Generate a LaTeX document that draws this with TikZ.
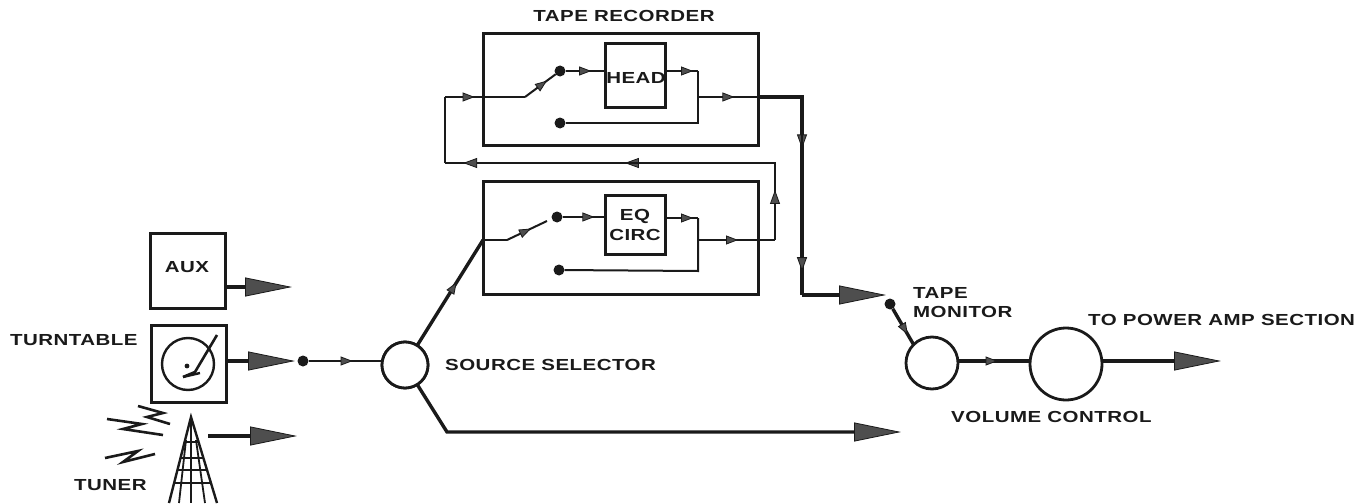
\documentclass[tikz,border=0pt]{standalone}
\usepackage{fontspec}
\setmainfont{Liberation Sans}[FakeStretch=1.28,LetterSpace=3]
\usetikzlibrary{arrows.meta,decorations.markings}
\definecolor{ink}{HTML}{1A1A1A}
\definecolor{tone}{HTML}{4E4E4E}
\tikzset{
  x=1pt,y=-1pt,
  wire/.style={draw=ink,line width=2pt,line join=miter},
  thick wire/.style={draw=ink,line width=3.4pt},
  frame/.style={draw=ink,line width=3pt,rectangle,inner sep=0pt,outer sep=0pt,fill=none},
  knob/.style={draw=ink,line width=2.8pt,circle,inner sep=0pt,outer sep=0pt,fill=white},
  contact/.style={circle,fill=ink,inner sep=0pt,minimum size=11pt,outer sep=0pt},
  label/.style={font=\bfseries\fontsize{16}{19}\selectfont,text=ink,inner sep=0pt},
  bigtip/.style={-{Triangle[length=47pt,width=19pt,fill=tone,color=ink,line width=.8pt]}},
  midtip/.style={postaction={decorate,decoration={markings,mark=at position #1 with {\arrow{Triangle[length=12pt,width=9pt,fill=tone,color=ink,line width=.8pt]}}}}},
  uptip/.style={postaction={decorate,decoration={markings,mark=at position #1 with {\arrow{Triangle[length=14pt,width=10pt,fill=tone,color=ink,line width=.8pt]}}}}},
}
\begin{document}
\begin{tikzpicture}
\useasboundingbox[fill=white] (0,0) rectangle (1367,503);
% boxes
\node[frame,minimum width=275pt,minimum height=111pt] (tape) at (620.5,89.5) {};
\node[frame,minimum width=60pt,minimum height=63pt] (head) at (635,75.5) {};
\node[frame,minimum width=275pt,minimum height=113pt] (eq) at (620.5,237.5) {};
\node[frame,minimum width=60pt,minimum height=59pt] (circ) at (635,224.5) {};
\node[frame,minimum width=75pt,minimum height=75pt] (aux) at (187.5,270.5) {};
\node[frame,minimum width=75pt,minimum height=77pt] (turn) at (188.5,363.5) {};
\node[knob,minimum size=46pt] (src) at (405,365) {};
\node[knob,minimum size=52pt] (mon) at (932,363) {};
\node[knob,minimum size=72pt] (vol) at (1066,364) {};
% contacts
\node[contact] (c1) at (560,71) {};
\node[contact] (c2) at (560,123) {};
\node[contact] (c3) at (557,217) {};
\node[contact] (c4) at (559,270) {};
\node[contact] (c5) at (303,361) {};
\node[contact] (c6) at (890,304) {};
% free ends and corners
\coordinate (fbL) at (445,97);
\coordinate (fbB) at (445,163);
\coordinate (fbR) at (775,163);
\coordinate (j1) at (525,97);
\coordinate (j2) at (698,71);
\coordinate (j3) at (698,123);
\coordinate (j4) at (698,97);
\coordinate (o1) at (802,97);
\coordinate (o2) at (802,295);
\coordinate (o3) at (886,295);
\coordinate (e0) at (483,240);
\coordinate (e1) at (507,240);
\coordinate (e2) at (547,221);
\coordinate (e3) at (698,218);
\coordinate (e4) at (698,271);
\coordinate (e5) at (698,240);
\coordinate (e6) at (775,240);
\coordinate (s1) at (447,432);
\coordinate (s2) at (901,432);
\coordinate (a1) at (292,287);
\coordinate (t1) at (295,361);
\coordinate (u0) at (208,436);
\coordinate (u1) at (297,436);
\coordinate (p1) at (1221,361);
% tape recorder wiring
\draw[wire] (fbB) -- (fbL);
\draw[wire,midtip=.37] (fbL) -- (j1);
\draw[wire,midtip=.72] (j1) -- (c1);
\draw[wire,midtip=.65] (c1) -- (c1 -| head.west);
\draw[wire,midtip=.85] (j2 -| head.east) -- (j2);
\draw[wire] (j2) -- (j3) -- (c2);
\draw[wire,midtip=.35] (j4) -- (o1);
\draw[thick wire] (tape.east |- o1) -- (o1) -- (o2);
\draw[wire,uptip=.26] (o1) -- (o2);
\draw[wire,uptip=.88] (o1) -- (o2);
\draw[thick wire,bigtip] (o2) -- (o3);
% feedback
\draw[wire] (e6) -- (fbR) -- (fbB);
\draw[wire,uptip=.65] (e6) -- (fbR);
\draw[wire,uptip=.455] (fbR) -- (fbB);
\draw[wire,uptip=.945] (fbR) -- (fbB);
% eq wiring
\draw[wire] (e0) -- (e1);
\draw[wire,midtip=.6] (e1) -- (e2);
\draw[wire,midtip=.75] (c3) -- (c3 -| circ.west);
\draw[wire,midtip=.85] (e3 -| circ.east) -- (e3);
\draw[wire] (e3) -- (e4) -- (c4);
\draw[wire,midtip=.52] (e5) -- (e6);
% sources
\draw[thick wire,bigtip] (aux.east |- a1) -- (a1);
\draw[thick wire,bigtip] (turn.east |- t1) -- (t1);
\draw[thick wire,bigtip] (u0) -- (u1);
\draw[wire,midtip=.6] (c5) -- (src.west |- c5);
\draw[thick wire,midtip=.6] (src) -- (e0);
\draw[thick wire,bigtip] (src) -- (s1) -- (s2);
% output
\draw[thick wire,midtip=.72] (c6) -- (mon.135);
\draw[thick wire,midtip=.55] (mon.east |- p1) -- (vol.west |- p1);
\draw[thick wire,bigtip] (vol.east |- p1) -- (p1);
% redraw knob over the wires that end at its centre
\node[knob,minimum size=46pt] at (src) {};
% turntable drawing
\draw[line width=2.4pt,draw=ink] (188,364) circle (26);
\draw[line width=2.6pt,draw=ink] (217,335) -- (195,372) -- (183,377);
\draw[line width=2.4pt,draw=ink] (183,377) -- (200,373);
\fill[ink] (187,366) circle (2.4);
% radio waves
\draw[line width=2.6pt,draw=ink] (138,406) -- (163,413) -- (147,417) -- (170,424);
\draw[line width=2.6pt,draw=ink] (107,419) -- (142,424) -- (123,429) -- (163,435);
\draw[line width=2.6pt,draw=ink] (105,458) -- (138,451) -- (123,462) -- (155,454);
% tower
\draw[line width=2.4pt,draw=ink] (169,503) -- (191,417) -- (217,503);
\draw[line width=1.8pt,draw=ink] (191,417) -- (191,503);
\draw[line width=2pt,draw=ink] (184.7,442) -- (198.5,442) (180.6,458) -- (203.3,458) (177.6,470) -- (207,470) (174.3,483) -- (210.9,483);
\draw[line width=1.8pt,draw=ink] (186,440) -- (179,503) (196,440) -- (205,503);
% labels
\node[label] at (624,16) (l1) {TAPE RECORDER};
\node[label] at (636,78) (l2) {HEAD};
\node[label] at (635,216) (l3) {EQ};
\node[label] at (635,235) (l4) {CIRC};
\node[label] at (187,267) (l5) {AUX};
\node[label,anchor=west] at (10,340) (l6) {TURNTABLE};
\node[label,anchor=west] at (74,485) (l7) {TUNER};
\node[label,anchor=west] at (445,365) (l8) {SOURCE SELECTOR};
\node[label,anchor=west] at (913,293) (l9) {TAPE};
\node[label,anchor=west] at (913,312) (l10) {MONITOR};
\node[label,anchor=west] at (1088,320) (l11) {TO POWER AMP SECTION};
\node[label,anchor=west] at (951,417) (l12) {VOLUME CONTROL};
\end{tikzpicture}
\end{document}
